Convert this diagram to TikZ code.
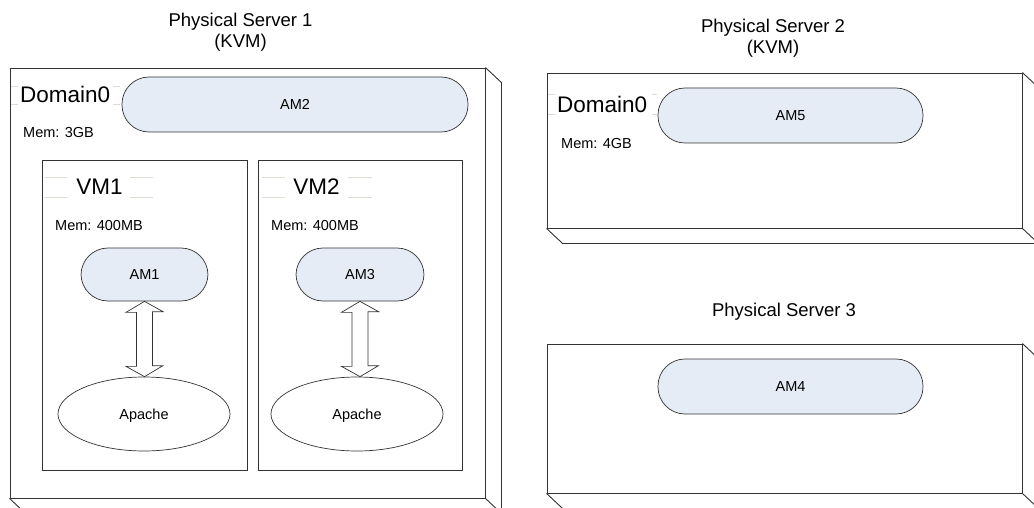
\documentclass[tikz,border=0pt]{standalone}
\usepackage{fontspec}
\setmainfont{Liberation Sans}
\usetikzlibrary{shapes.geometric,calc}
\definecolor{amfill}{HTML}{E6ECF6}
\definecolor{edge}{HTML}{333333}
\definecolor{faint}{HTML}{DDDDD4}
\tikzset{
  server/.style={draw=edge, line width=0.9pt, fill=white, rectangle, inner sep=0pt},
  depth/.style={draw=edge, line width=0.9pt},
  vmbox/.style={draw=edge, line width=0.8pt, rectangle, inner sep=0pt},
  capsule/.style={draw=edge, line width=0.7pt, fill=amfill, rectangle, rounded corners=27pt, inner sep=0pt, font=\fontsize{14.5}{17}\selectfont},
  apache/.style={draw=edge, line width=0.7pt, ellipse, inner sep=0pt, minimum width=172pt, minimum height=74pt, font=\fontsize{14.5}{17}\selectfont, text depth=0pt},
  small/.style={inner sep=0pt, font=\fontsize{14.5}{17}\selectfont},
  title/.style={inner sep=0pt, font=\fontsize{18.5}{22}\selectfont, anchor=base},
  big/.style={inner sep=0pt, font=\fontsize{22.5}{26}\selectfont, anchor=base},
  tick/.style={draw=faint, line width=0.8pt},
  dblarrow/.style={draw=edge, line width=0.7pt, fill=white}
}
\begin{document}
\begin{tikzpicture}[x=1pt,y=-1pt]
\clip (0,0) rectangle (1034,508);
\fill[white] (0,0) rectangle (1034,508);

% titles
\node[title] (t1a) at (240.5,27) {Physical Server 1};
\node[title] (t1b) at (240.5,48) {(KVM)};
\node[title] (t2a) at (773,33) {Physical Server 2};
\node[title] (t2b) at (773,54) {(KVM)};
\node[title] (t3a) at (784,316) {Physical Server 3};

% servers
\node[server, minimum width=475pt, minimum height=430pt] (s1) at (247.5,283) {};
\draw[depth] (s1.north east) -- ++(16,15) |- ($(s1.south west)+(16,15)$) -- (s1.south west);
\draw[depth] (s1.south east) -- ++(16,15);

\node[server, minimum width=475pt, minimum height=155pt] (s2) at (784.5,150.5) {};
\draw[depth] (s2.north east) -- ++(16,15) |- ($(s2.south west)+(16,15)$) -- (s2.south west);
\draw[depth] (s2.south east) -- ++(16,15);

\node[server, minimum width=475pt, minimum height=149pt] (s3) at (784.5,418.5) {};
\draw[depth] (s3.north east) -- ++(16,15) |- ($(s3.south west)+(16,15)$) -- (s3.south west);
\draw[depth] (s3.south east) -- ++(16,15);

% Server 1 Domain0
\draw[tick] (11,86) -- (18,86) (113,86) -- (120,86) (11,104) -- (18,104) (113,104) -- (120,104);
\node[big, anchor=base west] (d0a) at (20,103) {Domain0};
\node[small, anchor=base west] (mem1) at (23,138) {Mem: 3GB};
\node[capsule, minimum width=346pt, minimum height=55pt] (am2) at (295,104.5) {AM2};

% VM boxes
\node[vmbox, minimum width=205pt, minimum height=310pt] (vm1) at (144.5,315) {};
\node[vmbox, minimum width=204pt, minimum height=310pt] (vm2) at (360,315) {};

\draw[tick] (45,177) -- (67,177) (130,177) -- (153,177) (45,197) -- (67,197) (130,197) -- (153,197);
\draw[tick] (262,177) -- (285,177) (348,177) -- (372,177) (262,197) -- (285,197) (348,197) -- (372,197);
\node[big] (vm1l) at (99.5,195) {VM1};
\node[big] (vm2l) at (316.5,195) {VM2};
\node[small, anchor=base west] (mem2) at (55,230) {Mem: 400MB};
\node[small, anchor=base west] (mem3) at (271,230) {Mem: 400MB};

\node[capsule, minimum width=127pt, minimum height=53pt] (am1) at (144.5,274.5) {AM1};
\node[capsule, minimum width=128pt, minimum height=53pt] (am3) at (360,274.5) {AM3};

\node[apache] (ap1) at (144,414) {Apache};
\node[apache] (ap2) at (357,414) {Apache};

% double arrows
\draw[dblarrow] (am1.south) -- ++(-18.5,11) -- ++(10.5,0) -- ++(0,54) -- ++(-10.5,0) -- (ap1.north -| am1.south) -- ++(18.5,-11) -- ++(-10.5,0) -- ++(0,-54) -- ++(10.5,0) -- cycle;
\draw[dblarrow] (am3.south) -- ++(-18.5,11) -- ++(10.5,0) -- ++(0,54) -- ++(-10.5,0) -- (ap2.north -| am3.south) -- ++(18.5,-11) -- ++(-10.5,0) -- ++(0,-54) -- ++(10.5,0) -- cycle;

% Server 2
\draw[tick] (548,94) -- (555,94) (652,94) -- (657,94) (548,114) -- (555,114) (652,114) -- (657,114);
\node[big, anchor=base west] (d0b) at (557,113) {Domain0};
\node[small, anchor=base west] (mem4) at (561,149) {Mem: 4GB};
\node[capsule, minimum width=265pt, minimum height=55pt] (am5) at (790.5,115.5) {AM5};

% Server 3
\node[capsule, minimum width=265pt, minimum height=55pt] (am4) at (790.5,386.5) {AM4};
\end{tikzpicture}
\end{document}
